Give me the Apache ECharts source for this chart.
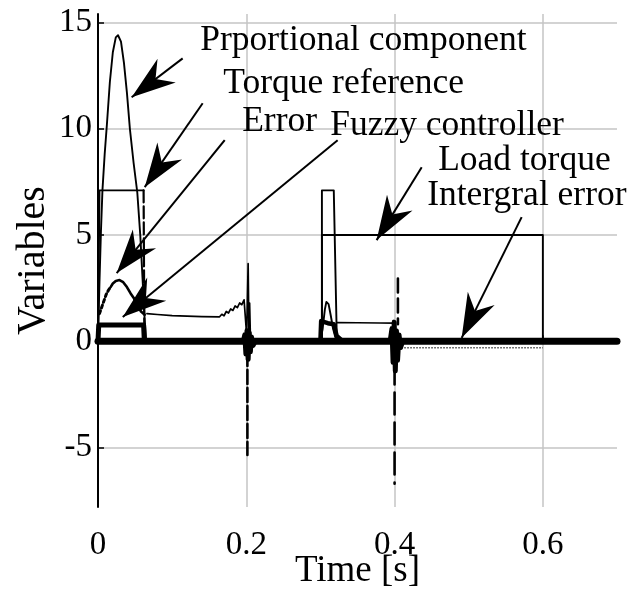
<!DOCTYPE html>
<html>
<head>
<meta charset="utf-8">
<script src="https://cdn.jsdelivr.net/npm/echarts@6/dist/echarts.min.js"></script>
<style>html,body{margin:0;padding:0;background:#fff}#c{width:631px;height:596px}</style>
</head>
<body>
<div id="c"></div>
<script>
// ---- tick labels ----
const xTicks = [0, 0.2, 0.4, 0.6];
const yTicks = [-5, 0, 5, 10, 15];

// ---- series values [time s, value] ----
const propComp = [[0,0],[0.002,2.8],[0.004,5.2],[0.006,7.1],[0.009,8.8],[0.012,10.2],[0.016,12.2],[0.02,13.6],[0.024,14.3],[0.027,14.4],[0.031,14.1],[0.035,13.1],[0.039,11.7],[0.043,10.0],[0.048,8.4],[0.053,7.0],[0.057,5.0],[0.06,3.0],[0.063,1.0],[0.065,0],[0.3,0],[0.303,0.6],[0.306,1.5],[0.308,1.85],[0.311,1.75],[0.314,1.2],[0.317,0.6],[0.32,0.2],[0.323,0]];
const torqueRef1 = [[0,0],[0.002,0],[0.002,7.1],[0.0615,7.1]];
const torqueRef2 = [[0.302,0],[0.302,7.1],[0.318,7.1],[0.322,0.3]];
const loadTorque = [[0,0],[0.302,0],[0.302,5],[0.6,5],[0.6,0],[0.7,0]];
const fuzzyBox1 = [[0,0],[0.001,0.77],[0.0615,0.77],[0.0625,0]];
const fuzzyBox2 = [[0.3,0],[0.301,0.95],[0.31,0.85],[0.318,0.8],[0.322,0.25],[0.33,0]];
const errorRise = [[0.002,1.3],[0.005,1.6],[0.008,1.9],[0.011,2.2],[0.014,2.4],[0.017,2.55]];
const errorFall = [[0.017,2.55],[0.02,2.72],[0.024,2.84],[0.029,2.88],[0.034,2.78],[0.039,2.55],[0.044,2.25],[0.048,2.05],[0.053,1.7],[0.058,1.4],[0.063,1.25]];
const tail1 = [[0.066,1.3],[0.08,1.26],[0.1,1.21],[0.12,1.18],[0.14,1.16],[0.164,1.15],[0.167,1.27],[0.17,1.2],[0.173,1.4],[0.176,1.33],[0.179,1.52],[0.182,1.45],[0.185,1.66],[0.188,1.58],[0.191,1.8],[0.194,1.72],[0.197,1.95],[0.1995,1.9],[0.2005,0.3],[0.2025,3.65],[0.2035,0.5],[0.2045,1.8],[0.2055,0.3],[0.207,0]];
const tail2 = [[0.322,0.88],[0.35,0.87],[0.38,0.86],[0.399,0.85],[0.4,0.2]];
const dashSeg1 = [[0.0615,7.1],[0.0625,0.3]];
const dashSeg2 = [[0.2015,-0.5],[0.2015,-5.35]];
const dashSeg3 = [[0.4045,2.95],[0.4045,0.8]];
const dashSeg4 = [[0.4,-1],[0.4,-6.7]];
const integralErr = [[0,0],[0.7,0]];
const blob02 = [[0.196,0],[0.198,0.3],[0.1995,-0.6],[0.201,0.5],[0.2025,-0.85],[0.204,0.4],[0.2055,-0.5],[0.207,0.2],[0.209,-0.2],[0.212,0]];
const blob04 = [[0.394,0],[0.3965,0.6],[0.398,-1.0],[0.3995,0.9],[0.401,-1.4],[0.4025,0.5],[0.404,-0.9],[0.406,0.3],[0.408,-0.3],[0.411,0]];
const lowStrip = [[0.405,-0.3],[0.6,-0.3]];

// ---- annotations ----
const annoText = ['Prportional component','Torque reference','Error','Fuzzy controller','Load torque','Intergral error'];
const annoAt = [[0.1372,14.16],[0.1682,12.11],[0.1938,10.31],[0.3125,10.16],[0.4581,8.52],[0.4433,6.83]];
const arrowFrom = [[0.1142,13.31],[0.1412,11.2],[0.1709,9.46],[0.3232,9.46],[0.4366,8.19],[0.5714,5.84]];
const arrowTo = [[0.0454,11.48],[0.063,7.25],[0.0252,3.21],[0.0334,1.14],[0.3758,4.76],[0.4905,0.16]];

const FONT = 'Liberation Serif';
const K = '#000';

function ln(data, width, type, extra) {
  return Object.assign({
    type: 'line', data: data, showSymbol: false, symbol: 'none', silent: true,
    lineStyle: { color: K, width: width, type: type || 'solid', cap: 'round', join: 'round' },
    z: 3
  }, extra || {});
}

const series = [
  ln(loadTorque, 1.9),
  ln(torqueRef1, 1.9),
  ln(torqueRef2, 1.9),
  ln(propComp, 1.9),
  ln(tail1, 1.7),
  ln(tail2, 1.7),
  ln(errorRise, 3, 'dotted'),
  ln(errorFall, 2.6),
  ln(dashSeg1, 2.2, [12, 4]),
  ln(dashSeg2, 2.6, [14, 4]),
  ln(dashSeg3, 2.6, [14, 6]),
  ln(dashSeg4, 2.6, [22, 8]),
  ln(lowStrip, 1.5, 'dotted', { lineStyle: { color: '#444', width: 1.5, type: 'dotted' } }),
  ln(fuzzyBox1, 5),
  ln(fuzzyBox2, 4.5),
  ln(integralErr, 7),
  ln(blob02, 5),
  ln(blob04, 5),
  {
    type: 'line', data: [], silent: true, z: 5,
    markLine: {
      silent: true, animation: false,
      lineStyle: { color: K, width: 2, type: 'solid' },
      label: { show: false },
      data: arrowFrom.map((f, i) => [
        { coord: f, symbol: 'none' },
        { coord: arrowTo[i], symbol: 'path://M0,0L15,44L0,30L-15,44Z', symbolSize: [30, 44], symbolOffset: [0, '50%'] }
      ])
    },
    markPoint: {
      silent: true, animation: false,
      symbol: 'circle', symbolSize: 1,
      itemStyle: { color: 'rgba(0,0,0,0)' },
      label: { show: true, position: 'right', distance: 0, formatter: '{b}', color: K, fontFamily: FONT, fontSize: 35.5 },
      data: annoText.map((t, i) => ({ name: t, coord: annoAt[i] }))
    }
  }
];

const chart = echarts.init(document.getElementById('c'), null, { renderer: 'canvas' });
chart.setOption({
  animation: false,
  backgroundColor: '#fff',
  grid: { left: 98, right: 14, top: 14, bottom: 89, containLabel: false, outerBoundsMode: 'none' },
  xAxis: {
    type: 'value', min: 0, max: 0.7,
    name: 'Time [s]', nameLocation: 'middle', nameGap: 46, nameMoveOverlap: false,
    nameTextStyle: { fontFamily: FONT, fontSize: 37, color: K },
    axisLine: { show: true, lineStyle: { color: K, width: 2 } },
    axisTick: { show: true, inside: true, length: 6, customValues: xTicks, lineStyle: { color: K, width: 1.5 } },
    axisLabel: { customValues: xTicks, fontFamily: FONT, fontSize: 33, color: K, margin: 22 },
    splitLine: { show: true, lineStyle: { color: '#c4c4c4', width: 1.5 } }
  },
  yAxis: {
    type: 'value', min: -7.8, max: 15.4,
    name: 'Variables', nameLocation: 'middle', nameGap: 45, nameRotate: 90, nameMoveOverlap: false,
    nameTextStyle: { fontFamily: FONT, fontSize: 40, color: K },
    axisLine: { show: true, lineStyle: { color: K, width: 2 } },
    axisTick: { show: true, inside: true, length: 6, customValues: yTicks, lineStyle: { color: K, width: 1.5 } },
    axisLabel: { customValues: yTicks, fontFamily: FONT, fontSize: 33, color: K, margin: 6 },
    splitLine: { show: true, lineStyle: { color: '#c4c4c4', width: 1.5 } }
  },
  series: series
});
</script>
</body>
</html>
